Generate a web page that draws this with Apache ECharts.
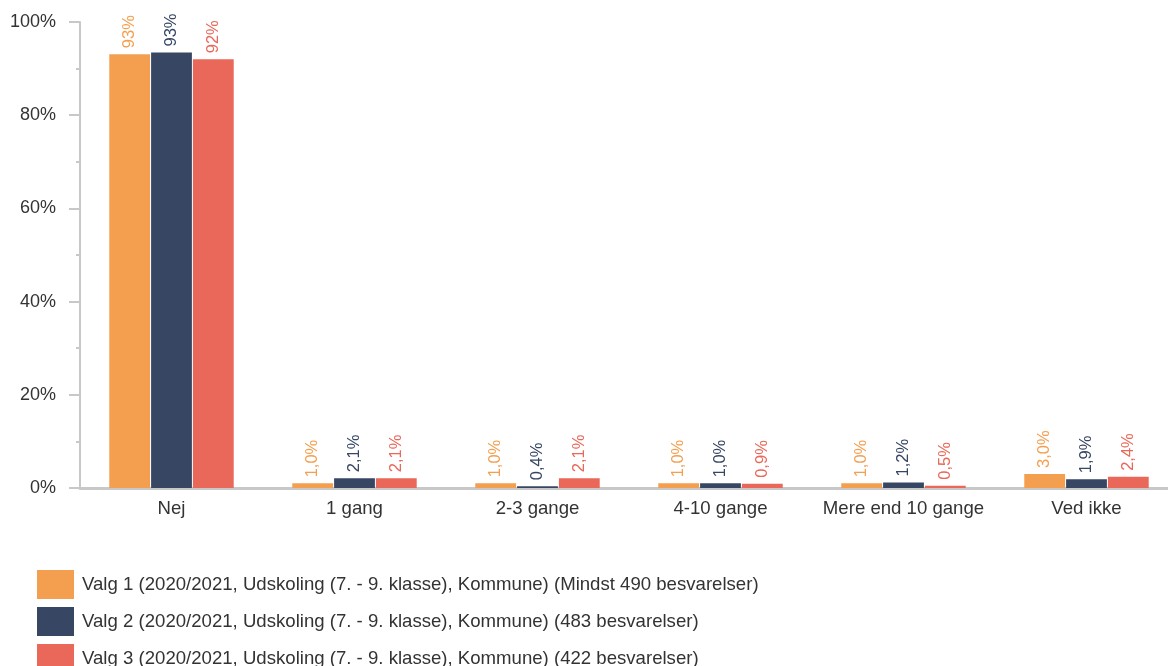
<!DOCTYPE html>
<html><head><meta charset="utf-8">
<script src="https://cdn.jsdelivr.net/npm/echarts@6/dist/echarts.min.js"></script>
<style>html,body{margin:0;padding:0;background:#fff}#c{width:1168px;height:666px}</style>
</head><body><div id="c"></div>
<script>
const categories = ["Nej", "1 gang", "2-3 gange", "4-10 gange", "Mere end 10 gange", "Ved ikke"];
const seriesNames = [
  "Valg 1 (2020/2021, Udskoling (7. - 9. klasse), Kommune) (Mindst 490 besvarelser)",
  "Valg 2 (2020/2021, Udskoling (7. - 9. klasse), Kommune) (483 besvarelser)",
  "Valg 3 (2020/2021, Udskoling (7. - 9. klasse), Kommune) (422 besvarelser)"
];
const valg1 = [93.1, 1.0, 1.0, 1.0, 1.0, 3.0];
const valg2 = [93.45, 2.1, 0.4, 1.0, 1.2, 1.9];
const valg3 = [92.0, 2.1, 2.1, 0.9, 0.5, 2.4];
const colors = ["#F49F4F", "#364663", "#E9685A"];

function fmt(v) {
  if (v >= 10) return Math.round(v) + "%";
  return v.toFixed(1).replace(".", ",") + "%";
}
const font = "Liberation Sans, Arial, sans-serif";
const chart = echarts.init(document.getElementById("c"));
const data = [valg1, valg2, valg3];
chart.setOption({
  animation: false,
  grid: { left: 80, top: 22, height: 466, width: 1098, containLabel: false, outerBoundsMode: "none" },
  legend: {
    orient: "vertical", left: 37, top: 570, height: 300, padding: 0,
    itemWidth: 37, itemHeight: 29, itemGap: 8,
    icon: "rect",
    textStyle: { fontFamily: font, fontSize: 18.6, color: "#333", padding: [0, 0, 0, 3] },
    data: seriesNames
  },
  xAxis: {
    type: "category", data: categories,
    axisLine: { lineStyle: { color: "#c8c8c8", width: 3 } },
    axisTick: { show: false },
    axisLabel: { interval: 0, fontFamily: font, fontSize: 18.6, color: "#333", margin: 11 }
  },
  yAxis: {
    type: "value", min: 0, max: 100, interval: 20,
    axisLine: { show: true, lineStyle: { color: "#c8c8c8", width: 2 } },
    axisTick: { show: true, length: 11, lineStyle: { color: "#c8c8c8", width: 2 } },
    minorTick: { show: true, splitNumber: 2, length: 4, lineStyle: { color: "#c8c8c8", width: 2 } },
    splitLine: { show: false },
    axisLabel: { fontFamily: font, fontSize: 18, color: "#333", margin: 24, formatter: "{value}%" }
  },
  series: data.map((d, i) => ({
    name: seriesNames[i], type: "bar", data: d,
    barGap: "2.5%", barCategoryGap: "32%",
    itemStyle: { color: colors[i] },
    label: {
      show: true, position: "top", rotate: 90, align: "left", verticalAlign: "middle",
      distance: 6, color: colors[i], fontFamily: font, fontSize: 16.5,
      formatter: p => fmt(p.value)
    }
  }))
});
</script></body></html>
